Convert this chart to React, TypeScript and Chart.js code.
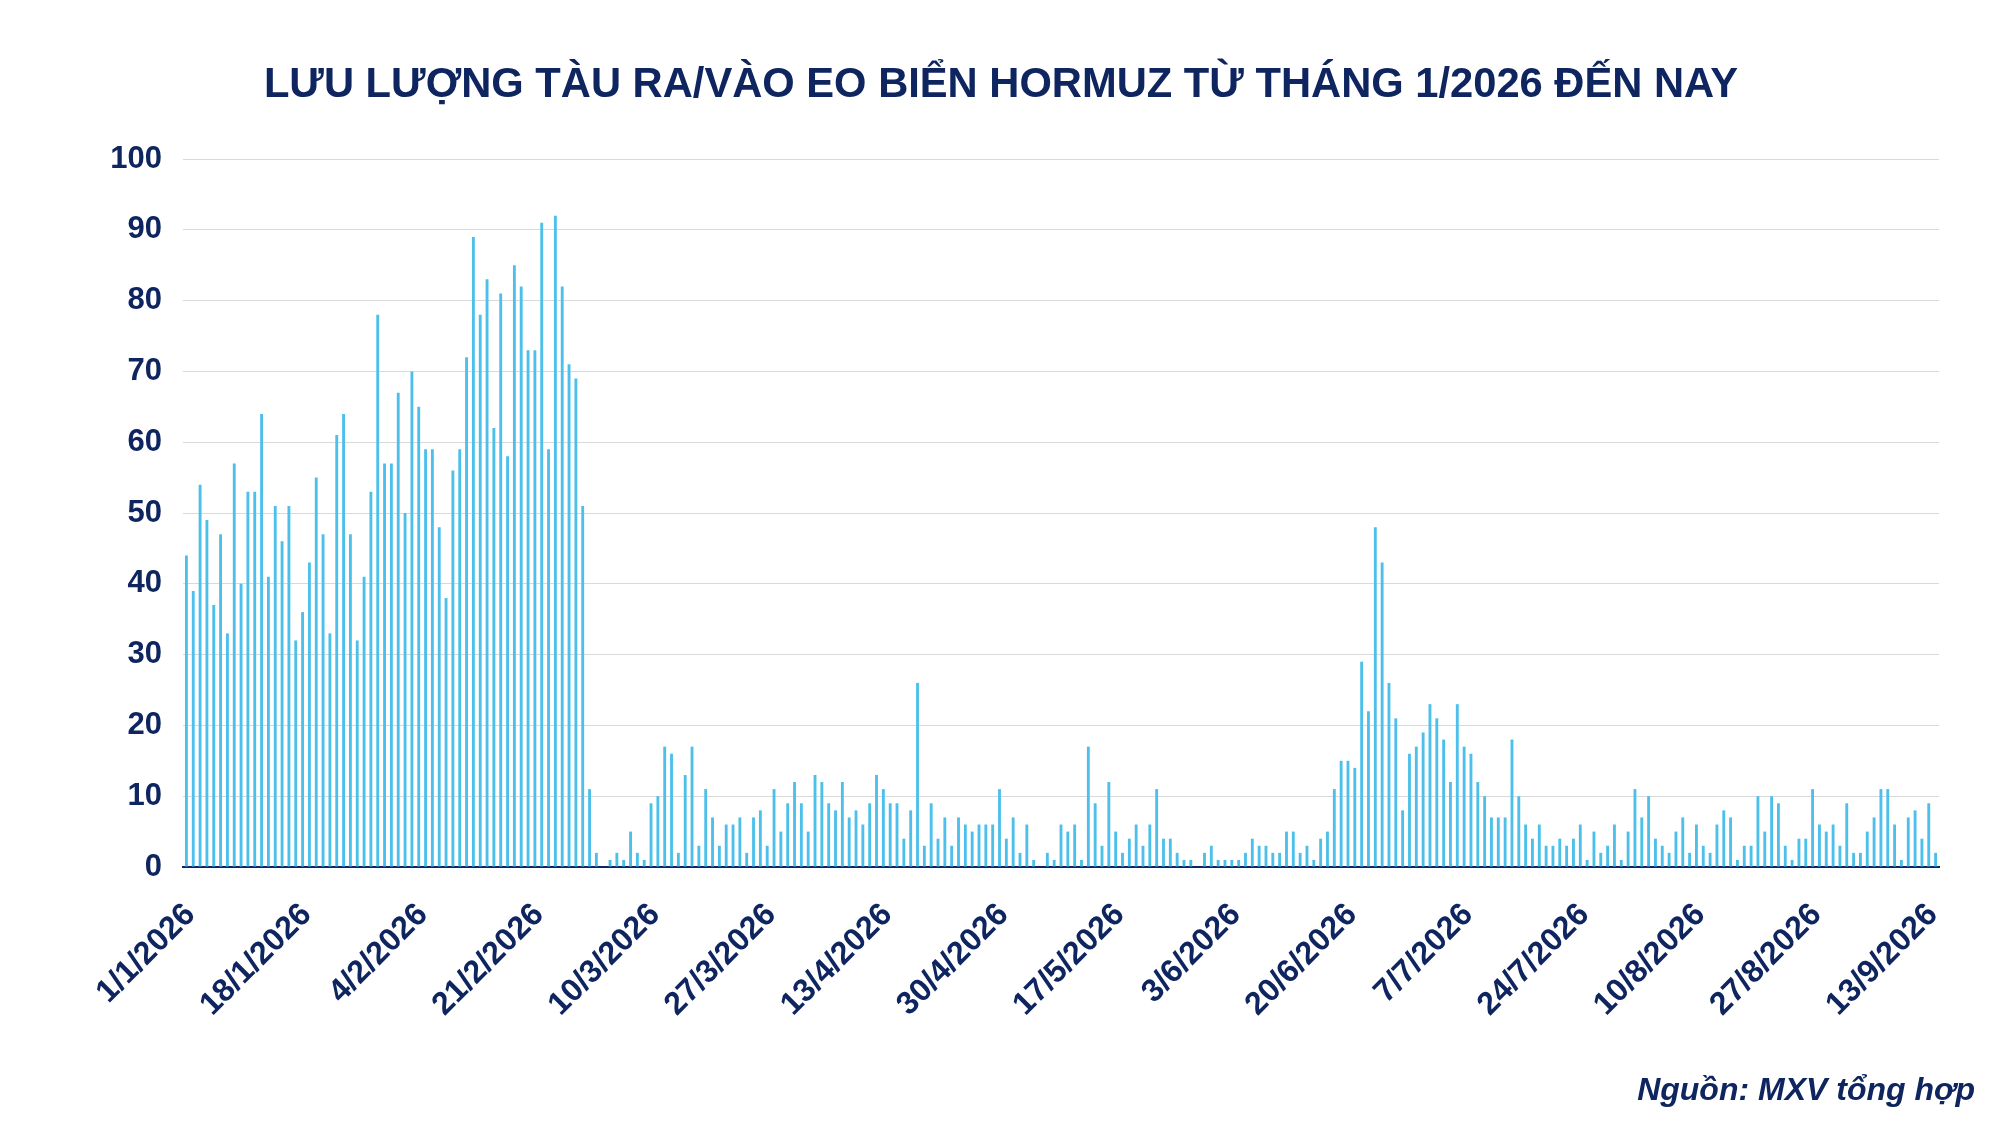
import { useEffect, useRef } from "react";
import { Chart, registerables } from "chart.js";

Chart.register(...registerables);

const TITLE = "LƯU LƯỢNG TÀU RA/VÀO EO BIỂN HORMUZ TỪ THÁNG 1/2026 ĐẾN NAY";
const SOURCE = "Nguồn: MXV tổng hợp";

// daily vessel transits, one array per month
const january = [44, 39, 54, 49, 37, 47, 33, 57, 40, 53, 53, 64, 41, 51, 46, 51, 32, 36, 43, 55, 47, 33, 61, 64, 47, 32, 41, 53, 78, 57, 57];
const february = [67, 50, 70, 65, 59, 59, 48, 38, 56, 59, 72, 89, 78, 83, 62, 81, 58, 85, 82, 73, 73, 91, 59, 92, 82, 71, 69, 51];
const march = [11, 2, 0, 1, 2, 1, 5, 2, 1, 9, 10, 17, 16, 2, 13, 17, 3, 11, 7, 3, 6, 6, 7, 2, 7, 8, 3, 11, 5, 9, 12];
const april = [9, 5, 13, 12, 9, 8, 12, 7, 8, 6, 9, 13, 11, 9, 9, 4, 8, 26, 3, 9, 4, 7, 3, 7, 6, 5, 6, 6, 6, 11];
const may = [4, 7, 2, 6, 1, 0, 2, 1, 6, 5, 6, 1, 17, 9, 3, 12, 5, 2, 4, 6, 3, 6, 11, 4, 4, 2, 1, 1, 0, 2, 3];
const june = [1, 1, 1, 1, 2, 4, 3, 3, 2, 2, 5, 5, 2, 3, 1, 4, 5, 11, 15, 15, 14, 29, 22, 48, 43, 26, 21, 8, 16, 17];
const july = [19, 23, 21, 18, 12, 23, 17, 16, 12, 10, 7, 7, 7, 18, 10, 6, 4, 6, 3, 3, 4, 3, 4, 6, 1, 5, 2, 3, 6, 1, 5];
const august = [11, 7, 10, 4, 3, 2, 5, 7, 2, 6, 3, 2, 6, 8, 7, 1, 3, 3, 10, 5, 10, 9, 3, 1, 4, 4, 11, 6, 5, 6, 3];
const september = [9, 2, 2, 5, 7, 11, 11, 6, 1, 7, 8, 4, 9, 2];

const tickLabels = [
  "1/1/2026", "18/1/2026", "4/2/2026", "21/2/2026", "10/3/2026", "27/3/2026",
  "13/4/2026", "30/4/2026", "17/5/2026", "3/6/2026", "20/6/2026", "7/7/2026",
  "24/7/2026", "10/8/2026", "27/8/2026", "13/9/2026",
];

const vesselCounts = [...january, ...february, ...march, ...april, ...may, ...june, ...july, ...august, ...september];

const days = vesselCounts.map((_, i) => {
  const d = new Date(2026, 0, 1 + i);
  return `${d.getDate()}/${d.getMonth() + 1}/${d.getFullYear()}`;
});

const NAVY = "#0e2560";
const BAR = "#4cc0ea";
const FONT = "'Liberation Sans', Arial, sans-serif";

const captionPlugin = {
  id: "captions",
  afterDraw(chart: Chart) {
    const { ctx } = chart;
    ctx.save();
    ctx.fillStyle = NAVY;
    ctx.textBaseline = "alphabetic";
    ctx.textAlign = "center";
    ctx.font = `bold 41.7px ${FONT}`;
    ctx.fillText(TITLE, 1001, 97);
    ctx.textAlign = "right";
    ctx.font = `italic bold 32px ${FONT}`;
    ctx.fillText(SOURCE, 1975, 1100);
    ctx.restore();
  },
};

const App = () => {
  const canvasRef = useRef<HTMLCanvasElement>(null);
  const chartRef = useRef<Chart | null>(null);

  useEffect(() => {
    if (!canvasRef.current) return;
    if (chartRef.current) chartRef.current.destroy();

    chartRef.current = new Chart(canvasRef.current, {
      type: "bar",
      data: {
        labels: days,
        datasets: [
          {
            data: vesselCounts,
            backgroundColor: BAR,
            borderWidth: 0,
            barPercentage: 0.42,
            categoryPercentage: 1,
          },
        ],
      },
      options: {
        responsive: false,
        animation: false,
        layout: { padding: { top: 159, right: 61, left: 0, bottom: 0 } },
        plugins: {
          legend: { display: false },
          title: { display: false },
          tooltip: { enabled: false },
        },
        scales: {
          x: {
            offset: true,
            grid: { display: false, drawTicks: false },
            border: { display: true, color: NAVY, width: 2 },
            ticks: {
              autoSkip: false,
              minRotation: 45,
              maxRotation: 45,
              padding: 29,
              labelOffset: 4,
              color: NAVY,
              font: { family: FONT, size: 32, weight: "bold" },
              callback: (_v: any, i: number) => (tickLabels.includes(days[i]) ? days[i] : null),
            },
            afterFit: (scale: any) => {
              scale.height = 259;
            },
          },
          y: {
            min: 0,
            max: 100,
            grid: { color: "#d9d9d9", lineWidth: 1, drawTicks: false },
            border: { display: false },
            ticks: {
              stepSize: 10,
              padding: 21,
              color: NAVY,
              font: { family: FONT, size: 31, weight: "bold" },
            },
            afterFit: (scale: any) => {
              scale.width = 183;
            },
          },
        },
      },
      plugins: [captionPlugin],
    });

    return () => {
      if (chartRef.current) {
        chartRef.current.destroy();
        chartRef.current = null;
      }
    };
  }, []);

  return (
    <div style={{ position: "absolute", left: 0, top: 0, width: 2000, height: 1126, background: "#fff" }}>
      <canvas ref={canvasRef} width={2000} height={1126} style={{ width: 2000, height: 1126 }} />
    </div>
  );
};

export default App;
